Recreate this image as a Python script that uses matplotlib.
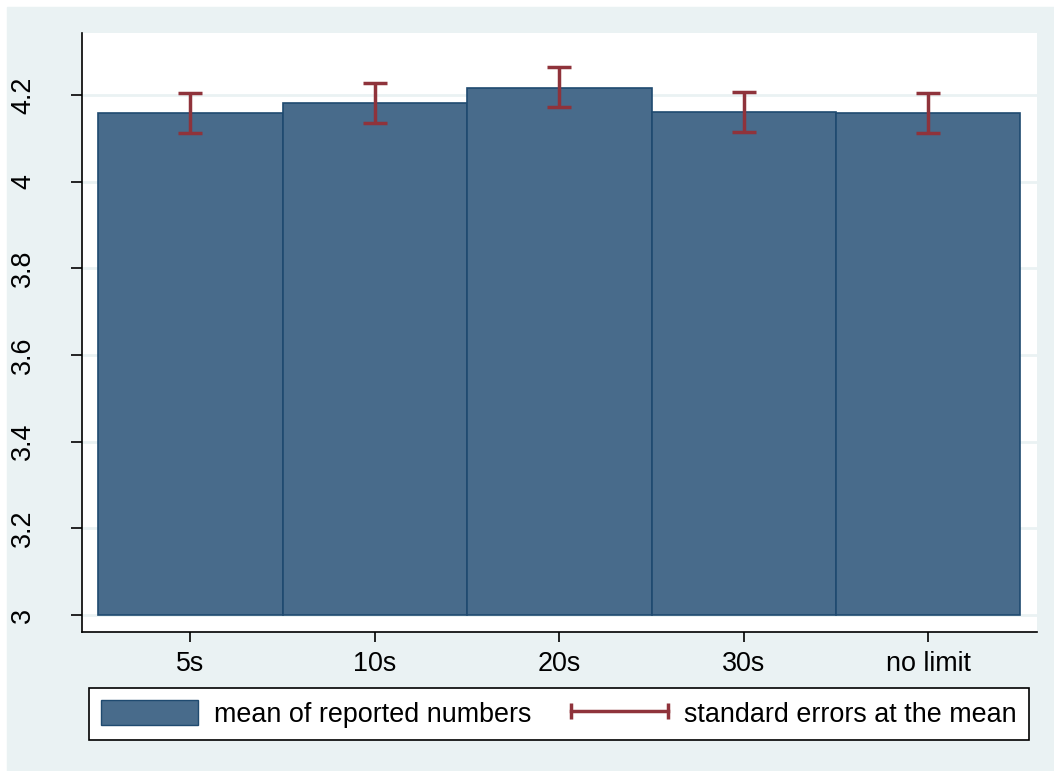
import numpy as np
import matplotlib
matplotlib.use("Agg")
import matplotlib.pyplot as plt
from matplotlib.patches import Patch, Rectangle
from matplotlib.lines import Line2D
from matplotlib.legend_handler import HandlerLine2D

plt.rcParams['font.family'] = ['Liberation Sans', 'DejaVu Sans']

# data
limits = ['5s', '10s', '20s', '30s', 'no limit']
means = [4.159, 4.182, 4.216, 4.161, 4.158]
ci_upper = [4.205, 4.228, 4.264, 4.207, 4.205]
ci_lower = [4.112, 4.134, 4.171, 4.114, 4.112]
yticks = [3, 3.2, 3.4, 3.6, 3.8, 4, 4.2]

bar_color = '#486b8b'
edge_color = '#1f4a70'
err_color = '#8f333b'
bg_color = '#eaf2f3'

fig = plt.figure(figsize=(10.54, 7.71), dpi=100, facecolor='white')
# Stata-like graph region
fig.patches.append(Rectangle((7 / 1054, 0), 1, (771 - 7) / 771,
                             transform=fig.transFigure, color=bg_color,
                             zorder=-10))

ax = fig.add_axes([82 / 1054, 1 - 632 / 771, (1037 - 82) / 1054, (632 - 33) / 771])
ax.set_facecolor('white')

x = np.arange(len(limits))
base = 3
means = np.array(means)
heights = means - base
ax.bar(x, heights, bottom=base, width=1.0, color=bar_color,
       edgecolor=edge_color, linewidth=1.2, zorder=2)

lower = means - np.array(ci_lower)
upper = np.array(ci_upper) - means
ax.errorbar(x, means, yerr=[lower, upper], fmt='none', ecolor=err_color,
            elinewidth=2.5, capsize=8.5, capthick=2.5, zorder=3)

ax.set_xlim(-0.588, 4.59)
ax.set_ylim(2.9608, 4.3426)
ax.set_yticks(yticks)
ax.set_yticklabels([f'{t:g}' for t in yticks], rotation=90, va='center')
ax.set_xticks(x)
ax.set_xticklabels(limits)

for y in yticks:
    ax.axhline(y, color=bg_color, linewidth=2, zorder=1)

for side in ['top', 'right']:
    ax.spines[side].set_visible(False)
for side in ['left', 'bottom']:
    ax.spines[side].set_linewidth(1.2)
    ax.spines[side].set_color('black')

ax.tick_params(axis='y', length=8, width=1.2, pad=25, labelsize=19.4)
ax.tick_params(axis='x', length=7.5, width=1.2, pad=6, labelsize=19.4)

handles = [Patch(facecolor=bar_color, edgecolor=edge_color, linewidth=1),
           Line2D([0, 1], [0, 0], color=err_color, linewidth=2.5,
                  marker='|', markersize=11, markeredgewidth=2.5)]
labels = ['mean of reported numbers', 'standard errors at the mean']
leg = fig.legend(handles, labels, loc='center',
                 bbox_to_anchor=(559 / 1054, 1 - 714 / 771), ncol=2,
                 fontsize=19.4, frameon=True, fancybox=False, framealpha=1,
                 edgecolor='black', handlelength=3.6, handleheight=1.05,
                 handletextpad=0.6, columnspacing=1.45, borderpad=0.45,
                 borderaxespad=0,
                 handler_map={Line2D: HandlerLine2D(marker_pad=0, numpoints=2)})
leg.get_frame().set_linewidth(1.2)

fig.savefig('out.png', dpi=100, facecolor=fig.get_facecolor())
